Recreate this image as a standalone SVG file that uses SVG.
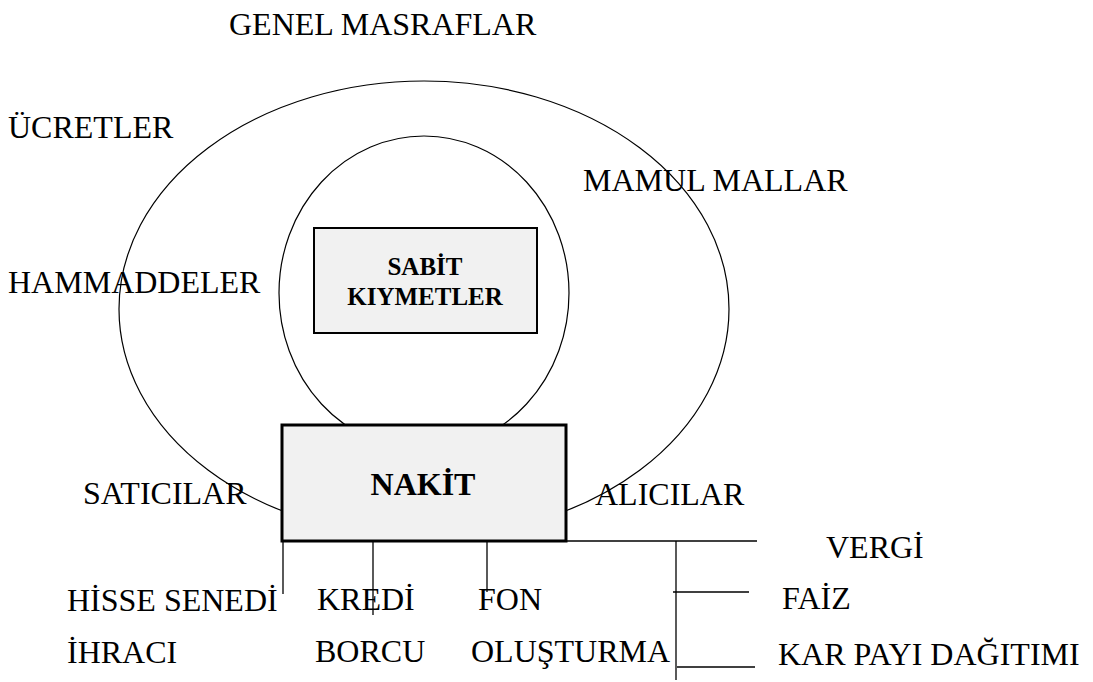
<svg xmlns="http://www.w3.org/2000/svg" width="1093" height="682" viewBox="0 0 1093 682">
<style>
  .lbl { font-family: "Liberation Serif", "Times New Roman", serif; font-size: 32px; fill: #000; }
  .bold { font-family: "Liberation Serif", "Times New Roman", serif; font-weight: bold; fill: #000; text-anchor: middle; }
  .ring { fill: none; stroke: #000; stroke-width: 1.2; }
  .box { fill: #f1f1f1; stroke: #000; }
  .ln { stroke: #000; stroke-width: 1.3; fill: none; }
</style>
<rect width="1093" height="682" fill="#fff"/>
<g id="outer-cycle">
  <ellipse class="ring" cx="424" cy="309" rx="305" ry="228"/>
</g>
<g id="inner-cycle">
  <ellipse class="ring" cx="424" cy="293" rx="145" ry="157"/>
</g>
<g id="sabit-kiymetler">
  <rect class="box" x="314" y="228" width="223" height="105" stroke-width="2"/>
  <text class="bold" x="425" y="275" font-size="25">SABİT</text>
  <text class="bold" x="425" y="305" font-size="25">KIYMETLER</text>
</g>
<g id="nakit">
  <rect class="box" x="282" y="425" width="284" height="116" stroke-width="3"/>
  <text class="bold" x="423" y="495" font-size="32">NAKİT</text>
</g>
<g id="connectors">
  <line class="ln" x1="283" y1="541" x2="283" y2="594" stroke-width="2"/>
  <line class="ln" x1="373" y1="541" x2="373" y2="615"/>
  <line class="ln" x1="487" y1="541" x2="487" y2="592"/>
  <line class="ln" x1="566" y1="541" x2="757" y2="541"/>
  <line class="ln" x1="676" y1="541" x2="676" y2="680"/>
  <line class="ln" x1="673" y1="592" x2="749" y2="592"/>
  <line class="ln" x1="677" y1="667" x2="755" y2="667"/>
</g>
<g id="labels">
  <text class="lbl" x="229" y="35">GENEL MASRAFLAR</text>
  <text class="lbl" x="8" y="138">ÜCRETLER</text>
  <text class="lbl" x="583" y="191">MAMUL MALLAR</text>
  <text class="lbl" x="8" y="293">HAMMADDELER</text>
  <text class="lbl" x="83" y="504">SATICILAR</text>
  <text class="lbl" x="595" y="505">ALICILAR</text>
  <text class="lbl" x="826" y="558">VERGİ</text>
  <text class="lbl" x="67" y="611">HİSSE SENEDİ</text>
  <text class="lbl" x="317" y="610">KREDİ</text>
  <text class="lbl" x="478" y="610">FON</text>
  <text class="lbl" x="782" y="609">FAİZ</text>
  <text class="lbl" x="67" y="663">İHRACI</text>
  <text class="lbl" x="315" y="662">BORCU</text>
  <text class="lbl" x="471" y="662">OLUŞTURMA</text>
  <text class="lbl" x="778" y="665">KAR PAYI DAĞITIMI</text>
</g>
</svg>
